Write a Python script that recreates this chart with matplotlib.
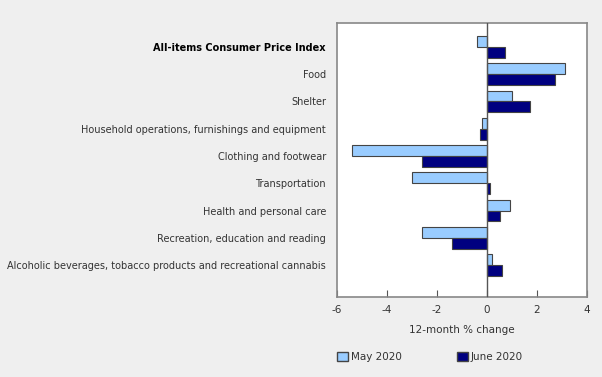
import numpy as np
import matplotlib
matplotlib.use('Agg')
import matplotlib.pyplot as plt
from matplotlib.patches import Patch

categories = [
    'All-items Consumer Price Index',
    'Food',
    'Shelter',
    'Household operations, furnishings and equipment',
    'Clothing and footwear',
    'Transportation',
    'Health and personal care',
    'Recreation, education and reading',
    'Alcoholic beverages, tobacco products and recreational cannabis',
]
may_2020 = [-0.4, 3.1, 1.0, -0.2, -5.4, -3.0, 0.9, -2.6, 0.2]
june_2020 = [0.7, 2.7, 1.7, -0.3, -2.6, 0.1, 0.5, -1.4, 0.6]
x_ticks = [-6, -4, -2, 0, 2, 4]

bg = '#efefef'
txt = '#333333'
plt.rcParams['font.family'] = 'DejaVu Sans'
plt.rcParams['font.size'] = 7

fig = plt.figure(figsize=(6.02, 3.77), dpi=100, facecolor=bg)
ax = fig.add_axes([0.5598, 0.213, 0.4153, 0.7268])
ax.set_facecolor('white')

y = np.arange(len(categories))
h = 0.4
ax.barh(y - h / 2, may_2020, height=h, color='#99ccff', edgecolor='#444444', linewidth=0.8, label='May 2020')
ax.barh(y + h / 2, june_2020, height=h, color='#000080', edgecolor='#444444', linewidth=0.8, label='June 2020')

ax.axvline(0, color='#555555', linewidth=1, zorder=3)
ax.set_xlim(-6, 4)
ax.set_ylim(len(categories) - 1 + 1.16, -0.89)
ax.set_xticks(x_ticks)
ax.set_xticklabels([str(t) for t in x_ticks], color=txt)
ax.tick_params(axis='x', direction='in', length=5, color='#555555', pad=6, labelsize=7.5)
ax.set_yticks(y)
ax.set_yticklabels(categories, color=txt)
ax.tick_params(axis='y', length=0, pad=8)
ax.get_yticklabels()[0].set_fontweight('bold')
ax.get_yticklabels()[0].set_color('black')
for s in ax.spines.values():
    s.set_color('#888888')
    s.set_linewidth(1.2)
ax.set_xlabel('12-month % change', color=txt, labelpad=7, fontsize=7.5)

handles = [Patch(facecolor='#99ccff', edgecolor='#444444'), Patch(facecolor='#000080', edgecolor='#444444')]
fig.legend(handles, ['May 2020', 'June 2020'], loc='center left', bbox_to_anchor=(0.545, 0.053),
           ncol=2, frameon=False, handlelength=1.0, handleheight=1.0, columnspacing=5.3,
           handletextpad=0.3, fontsize=7.5, labelcolor=txt)

fig.savefig('out.png', dpi=100, facecolor=bg)
